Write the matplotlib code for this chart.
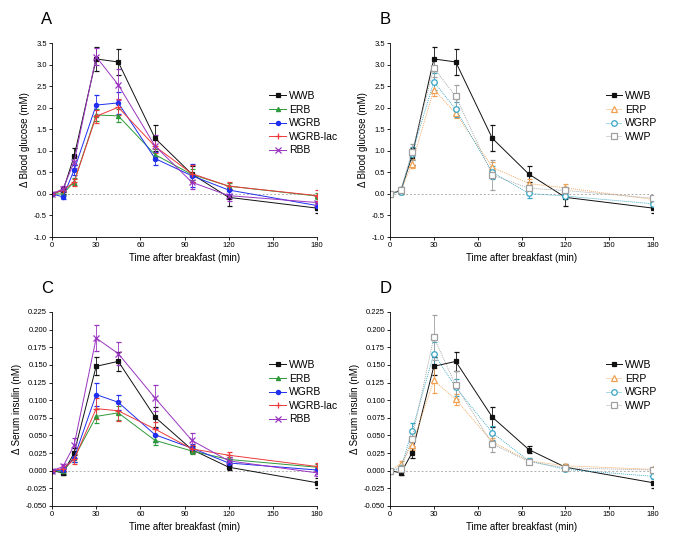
import matplotlib
matplotlib.use("Agg")
import matplotlib.pyplot as plt
from matplotlib.lines import Line2D
import numpy as np

plt.rcParams['font.family'] = ['Liberation Sans', 'DejaVu Sans']

time = [0, 7.5, 15, 30, 45, 70, 95, 120, 180]

# Panel A / B: blood glucose (mM)
glu_WWB = [0, 0.08, 0.87, 3.13, 3.06, 1.29, 0.46, -0.08, -0.33]
glu_WWB_err = [0, 0.08, 0.20, 0.27, 0.31, 0.30, 0.18, 0.20, 0.12]
glu_ERB = [0, 0.0, 0.28, 1.83, 1.81, 0.91, 0.45, 0.18, -0.05]
glu_ERB_err = [0, 0.05, 0.08, 0.15, 0.15, 0.12, 0.12, 0.08, 0.08]
glu_WGRB = [0, -0.07, 0.55, 2.06, 2.11, 0.82, 0.42, 0.09, -0.27]
glu_WGRB_err = [0, 0.05, 0.12, 0.24, 0.25, 0.15, 0.27, 0.10, 0.10]
glu_WGRBlac = [0, 0.09, 0.27, 1.80, 2.01, 1.10, 0.47, 0.18, -0.04]
glu_WGRBlac_err = [0, 0.05, 0.08, 0.15, 0.18, 0.15, 0.20, 0.10, 0.12]
glu_RBB = [0, 0.12, 0.74, 3.18, 2.53, 1.11, 0.27, -0.04, -0.20]
glu_RBB_err = [0, 0.06, 0.15, 0.20, 0.36, 0.25, 0.15, 0.12, 0.12]
glu_ERP = [0, 0.07, 0.70, 2.42, 1.87, 0.62, 0.24, 0.14, -0.13]
glu_ERP_err = [0, 0.05, 0.10, 0.15, 0.12, 0.12, 0.10, 0.08, 0.08]
glu_WGRP = [0, 0.05, 0.93, 2.60, 1.96, 0.50, 0.01, -0.05, -0.23]
glu_WGRP_err = [0, 0.05, 0.15, 0.20, 0.18, 0.15, 0.10, 0.08, 0.10]
glu_WWP = [0, 0.10, 0.97, 2.92, 2.26, 0.44, 0.13, 0.08, -0.10]
glu_WWP_err = [0, 0.06, 0.18, 0.22, 0.26, 0.35, 0.10, 0.08, 0.08]

# Panel C / D: serum insulin (nM)
ins_WWB = [0, -0.003, 0.025, 0.148, 0.155, 0.076, 0.030, 0.005, -0.017]
ins_WWB_err = [0, 0.003, 0.007, 0.013, 0.014, 0.014, 0.005, 0.004, 0.007]
ins_ERB = [0, -0.001, 0.018, 0.077, 0.082, 0.043, 0.028, 0.016, 0.005]
ins_ERB_err = [0, 0.003, 0.005, 0.010, 0.010, 0.007, 0.004, 0.004, 0.004]
ins_WGRB = [0, 0.001, 0.018, 0.108, 0.097, 0.051, 0.032, 0.011, 0.001]
ins_WGRB_err = [0, 0.003, 0.006, 0.016, 0.011, 0.010, 0.006, 0.004, 0.005]
ins_WGRBlac = [0, 0.003, 0.016, 0.088, 0.085, 0.059, 0.031, 0.022, 0.006]
ins_WGRBlac_err = [0, 0.003, 0.006, 0.015, 0.014, 0.010, 0.006, 0.005, 0.005]
ins_RBB = [0, 0.006, 0.036, 0.188, 0.166, 0.103, 0.043, 0.014, -0.003]
ins_RBB_err = [0, 0.003, 0.010, 0.018, 0.016, 0.018, 0.010, 0.006, 0.005]
ins_ERP = [0, 0.010, 0.036, 0.128, 0.101, 0.041, 0.014, 0.007, 0.002]
ins_ERP_err = [0, 0.004, 0.006, 0.018, 0.008, 0.006, 0.004, 0.003, 0.003]
ins_WGRP = [0, 0.004, 0.056, 0.166, 0.118, 0.054, 0.014, 0.002, -0.008]
ins_WGRP_err = [0, 0.003, 0.012, 0.016, 0.012, 0.010, 0.004, 0.003, 0.004]
ins_WWP = [0, 0.003, 0.045, 0.189, 0.121, 0.038, 0.013, 0.004, 0.001]
ins_WWP_err = [0, 0.003, 0.010, 0.032, 0.020, 0.012, 0.004, 0.003, 0.003]

DOT = (0, (1.2, 1.2))
styles = {
    'WWB': dict(color='#111111', marker='s', ms=3.5, mfc='#111111', ls='-', lw=0.7),
    'ERB': dict(color='#2e9a3a', marker='^', ms=3, mfc='#2e9a3a', ls='-', lw=0.7),
    'WGRB': dict(color='#1f2ff0', marker='o', ms=3, mfc='#1f2ff0', ls='-', lw=0.7),
    'WGRB-lac': dict(color='#ee3a3a', marker='+', ms=4.5, mfc='#ee3a3a', ls='-', lw=0.7),
    'RBB': dict(color='#9a35c0', marker='x', ms=4, mfc='#9a35c0', ls='-', lw=0.7),
    'ERP': dict(color='#f0a050', marker='^', ms=4, mfc='white', ls=DOT, lw=0.6),
    'WGRP': dict(color='#35a5c5', marker='o', ms=4, mfc='white', ls=DOT, lw=0.6),
    'WWP': dict(color='#a0a0a0', marker='s', ms=4, mfc='white', ls=DOT, lw=0.6),
}

fig = plt.figure(figsize=(6.85, 5.47), dpi=100)
W, H = 685, 547

def make_ax(l, r, t, b):
    return fig.add_axes([l / W, 1 - b / H, (r - l) / W, (b - t) / H])

axA = make_ax(52, 317, 43, 237)
axB = make_ax(390, 653, 43, 237)
axC = make_ax(52, 317, 312, 506)
axD = make_ax(390, 653, 312, 506)

def plot_series(ax, name, y, e):
    st = styles[name]
    ax.errorbar(time, y, yerr=e, color=st['color'], lw=st['lw'], ls=st['ls'],
                marker=st['marker'], ms=st['ms'], mfc=st['mfc'], mec=st['color'],
                mew=0.9, capsize=1.8, elinewidth=0.6, capthick=0.6)

def style_ax(ax, names, ylim, yticks, yfmt, ylabel, letter):
    ax.axhline(0, color='#b0b0b0', lw=0.7, ls=(0, (2, 2)), zorder=0)
    ax.set_xlim(0, 180)
    ax.set_ylim(*ylim)
    ax.set_xticks([0, 30, 60, 90, 120, 150, 180])
    ax.set_yticks(yticks)
    ax.set_yticklabels([yfmt.format(v) for v in yticks])
    for s in ['top', 'right']:
        ax.spines[s].set_visible(False)
    for s in ['left', 'bottom']:
        ax.spines[s].set_linewidth(0.6)
    ax.tick_params(labelsize=5.5, width=0.6, length=2.5, pad=1)
    ax.set_xlabel('Time after breakfast (min)', fontsize=7, labelpad=3)
    ax.set_ylabel(ylabel, fontsize=7, labelpad=3)
    ax.text(-0.04, 1.08, letter, transform=ax.transAxes, fontsize=12, va='bottom', ha='left')
    handles = []
    for n in names:
        st = styles[n]
        handles.append(Line2D([], [], color=st['color'], lw=st['lw'], ls=st['ls'],
                              marker=st['marker'], ms=st['ms'], mfc=st['mfc'],
                              mec=st['color'], mew=0.9, label=n))
    ax.legend(handles=handles, loc='upper left', bbox_to_anchor=(0.80, 0.78), frameon=False,
              fontsize=7.5, handlelength=1.6, handletextpad=0.3, labelspacing=0.35,
              borderpad=0)

gticks = [-1.0, -0.5, 0.0, 0.5, 1.0, 1.5, 2.0, 2.5, 3.0, 3.5]
iticks = [-0.05, -0.025, 0.0, 0.025, 0.05, 0.075, 0.1, 0.125, 0.15, 0.175, 0.2, 0.225]

setA = [('WWB', glu_WWB, glu_WWB_err), ('ERB', glu_ERB, glu_ERB_err),
        ('WGRB', glu_WGRB, glu_WGRB_err), ('WGRB-lac', glu_WGRBlac, glu_WGRBlac_err),
        ('RBB', glu_RBB, glu_RBB_err)]
setB = [('WWB', glu_WWB, glu_WWB_err), ('ERP', glu_ERP, glu_ERP_err),
        ('WGRP', glu_WGRP, glu_WGRP_err), ('WWP', glu_WWP, glu_WWP_err)]
setC = [('WWB', ins_WWB, ins_WWB_err), ('ERB', ins_ERB, ins_ERB_err),
        ('WGRB', ins_WGRB, ins_WGRB_err), ('WGRB-lac', ins_WGRBlac, ins_WGRBlac_err),
        ('RBB', ins_RBB, ins_RBB_err)]
setD = [('WWB', ins_WWB, ins_WWB_err), ('ERP', ins_ERP, ins_ERP_err),
        ('WGRP', ins_WGRP, ins_WGRP_err), ('WWP', ins_WWP, ins_WWP_err)]

for ax, sset, ylim, ticks, fmt, lab, letter in [
        (axA, setA, (-1.0, 3.5), gticks, '{:.1f}', '\u0394 Blood glucose (mM)', 'A'),
        (axB, setB, (-1.0, 3.5), gticks, '{:.1f}', '\u0394 Blood glucose (mM)', 'B'),
        (axC, setC, (-0.05, 0.225), iticks, '{:.3f}', '\u0394 Serum insulin (nM)', 'C'),
        (axD, setD, (-0.05, 0.225), iticks, '{:.3f}', '\u0394 Serum insulin (nM)', 'D')]:
    for name, y, e in sset:
        plot_series(ax, name, y, e)
    style_ax(ax, [s[0] for s in sset], ylim, ticks, fmt, lab, letter)

fig.savefig('out.png', dpi=100)
